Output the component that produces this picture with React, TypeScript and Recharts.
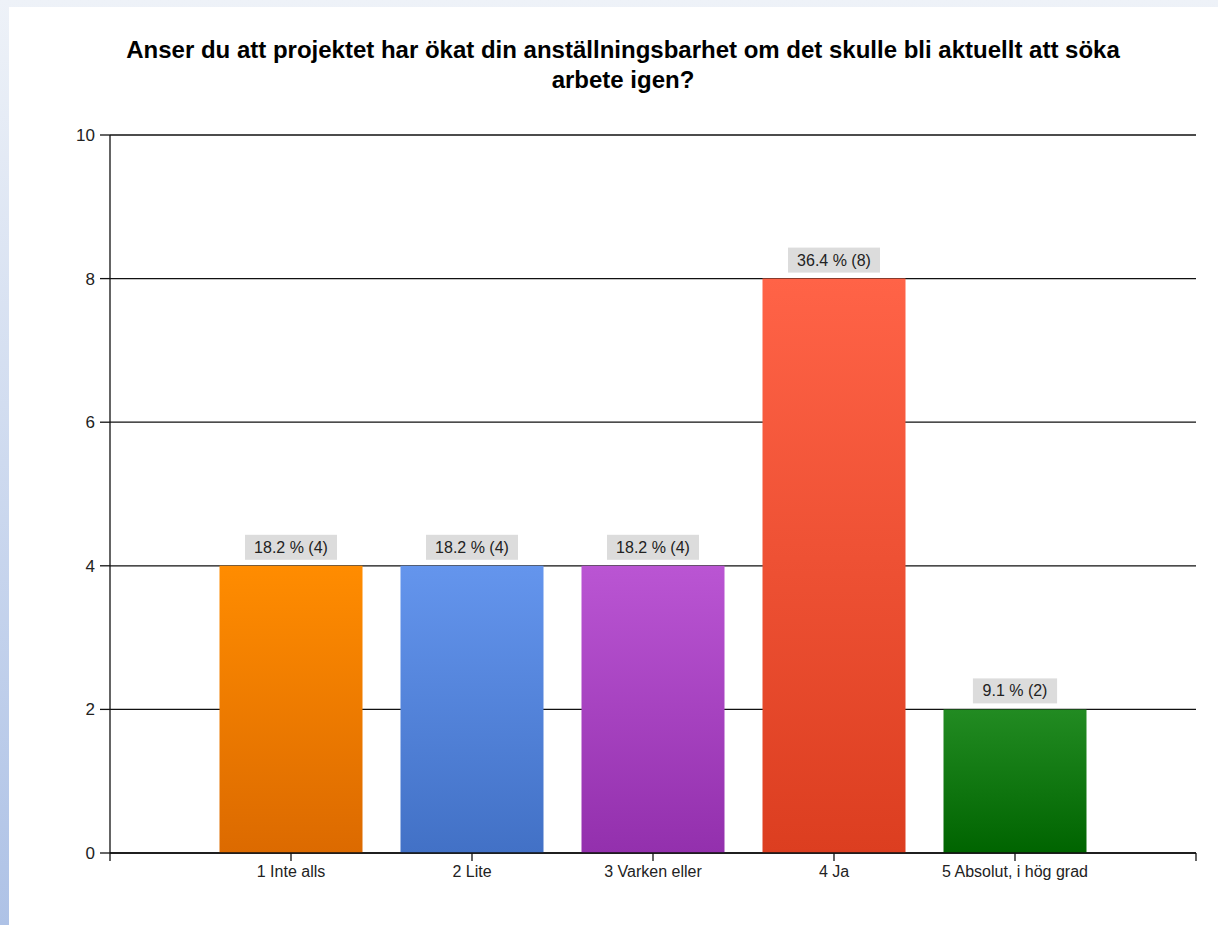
import { BarChart, Bar, XAxis, YAxis, CartesianGrid, Cell, LabelList } from 'recharts'

const categories = ['1 Inte alls', '2 Lite', '3 Varken eller', '4 Ja', '5 Absolut, i hög grad']
const positions = [1, 2, 3, 4, 5]
const counts = [4, 4, 4, 8, 2]
const percents = [18.2, 18.2, 18.2, 36.4, 9.1]
const yTicks = [0, 2, 4, 6, 8, 10]
const xTicks = [0, 1, 2, 3, 4, 5, 6]

// top / bottom colours of each bar's gradient
const topColors = ['#ff8c00', '#6495ed', '#ba55d3', '#ff6347', '#228b22']
const bottomColors = ['#dc6a00', '#4271c6', '#9330ad', '#dc3e20', '#006400']

const data = positions.map((x, i) => ({
  x,
  name: categories[i],
  count: counts[i],
  label: `${percents[i]} % (${counts[i]})`,
}))

const font = '"Liberation Sans", Arial, sans-serif'

function BarLabel(props: any) {
  const { x, y, width, value } = props
  const cx = x + width / 2
  const w = String(value).length * 7.8 + 14
  return (
    <g>
      <rect x={cx - w / 2} y={y - 31} width={w} height={25} fill="#dcdcdc" />
      <text x={cx} y={y - 13} textAnchor="middle" fontSize={16} fontFamily={font} fill="#222">
        {value}
      </text>
    </g>
  )
}

export default function App() {
  return (
    <div style={{ position: 'absolute', left: 0, top: 0, width: 1218, height: 925, background: 'linear-gradient(to bottom, #eef2f8, #aec2e6)' }}>
      <div style={{ position: 'absolute', left: 9, top: 7, right: 0, bottom: 0, background: '#fff' }} />
      <div style={{ position: 'absolute', left: 9, top: 7 }}>
        <BarChart width={1209} height={918} data={data} margin={{ top: 128, right: 22, bottom: 40, left: 41 }}>
          <defs>
            {topColors.map((c, i) => (
              <linearGradient key={i} id={`g${i}`} x1="0" y1="0" x2="0" y2="1">
                <stop offset="0%" stopColor={c} />
                <stop offset="100%" stopColor={bottomColors[i]} />
              </linearGradient>
            ))}
          </defs>
          <CartesianGrid vertical={false} stroke="#111" strokeWidth={1.3} />
          <XAxis
            type="number"
            dataKey="x"
            domain={[0, 6]}
            ticks={xTicks}
            interval={0}
            tickFormatter={(v: number) => (v >= 1 && v <= 5 ? categories[v - 1] : '')}
            tick={{ fill: '#222', fontSize: 16, fontFamily: font }}
            stroke="#111"
            strokeWidth={1.3}
            tickSize={8}
            tickMargin={5}
            height={32}
          />
          <YAxis
            domain={[0, 10]}
            ticks={yTicks}
            tick={{ fill: '#222', fontSize: 17, fontFamily: font }}
            stroke="#111"
            strokeWidth={1.3}
            tickSize={10}
            tickMargin={5}
            width={60}
          />
          <Bar dataKey="count" barSize={143} isAnimationActive={false}>
            {data.map((_, i) => (
              <Cell key={i} fill={`url(#g${i})`} />
            ))}
            <LabelList dataKey="label" content={BarLabel} />
          </Bar>
        </BarChart>
      </div>
      <div
        style={{
          position: 'absolute',
          left: 120,
          top: 35,
          width: 1006,
          textAlign: 'center',
          fontFamily: font,
          fontWeight: 'bold',
          fontSize: 24,
          lineHeight: '30px',
          color: '#000',
        }}
      >
        Anser du att projektet har ökat din anställningsbarhet om det skulle bli aktuellt att söka
        <br />
        arbete igen?
      </div>
    </div>
  )
}
